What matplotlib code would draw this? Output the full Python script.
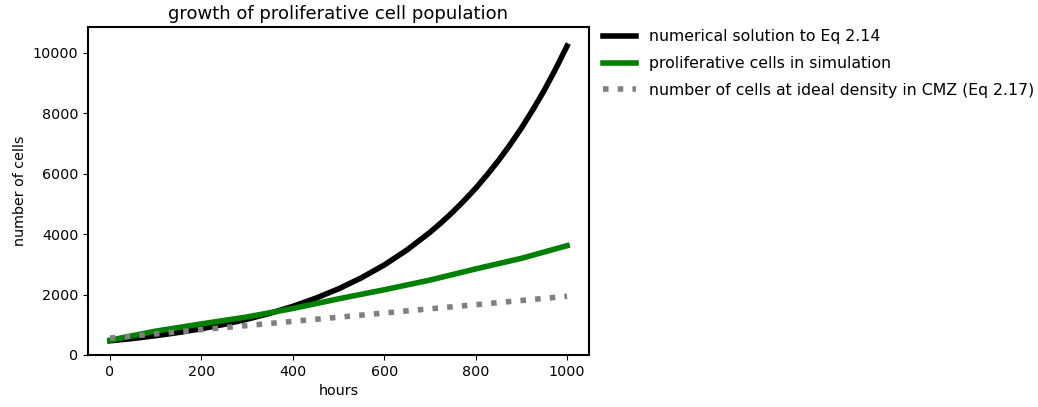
import numpy as np
import matplotlib
matplotlib.use("Agg")
import matplotlib.pyplot as plt

# numerical solution of the growth ODE (denser sampling where it bends most)
ode_hours = [0, 50, 100, 150, 200, 250, 300, 350, 400, 450, 500, 550, 600,
             650, 700, 725, 750, 775, 800, 825, 850, 875, 900, 925, 950, 975, 1000]
ode_cells = [470, 546, 640, 745, 870, 1015, 1185, 1380, 1610, 1880, 2190, 2555, 2980,
             3480, 4060, 4385, 4735, 5115, 5520, 5965, 6440, 6955, 7510, 8115, 8760, 9470, 10230]

# simulation output and ideal-density estimate, every 100 h
sim_hours = [0, 100, 200, 300, 400, 500, 600, 700, 800, 900, 1000]
sim_cells = [490, 790, 1030, 1260, 1540, 1860, 2160, 2480, 2850, 3200, 3620]
ideal_cells = [560, 700, 840, 975, 1115, 1250, 1390, 1530, 1665, 1805, 1945]

fig = plt.figure(figsize=(10.38, 4.07), dpi=100)
ax = fig.add_axes([88 / 1038, 52 / 407, 501 / 1038, 328 / 407])

ax.plot(ode_hours, ode_cells, color="black", linewidth=4,
        label="numerical solution to Eq 2.14")
ax.plot(sim_hours, sim_cells, color="green", linewidth=4,
        label="proliferative cells in simulation")
ax.plot(sim_hours, ideal_cells, color="grey", linewidth=4, linestyle=":",
        label="number of cells at ideal density in CMZ (Eq 2.17)")

ax.set_ylim(0, 10860)
ax.set_xlim(-48, 1048)
ax.set_xticks([0, 200, 400, 600, 800, 1000])
ax.set_yticks([0, 2000, 4000, 6000, 8000, 10000])
ax.tick_params(labelsize=10.3)
ax.set_xlabel("hours", fontsize=10.3)
ax.set_ylabel("number of cells", fontsize=10.3)
ax.set_title("growth of proliferative cell population", fontsize=13)
for s in ax.spines.values():
    s.set_linewidth(1.5)

ax.legend(loc="upper left", bbox_to_anchor=(1.0, 1.036), frameon=False,
          fontsize=11.3, handlelength=2.1, labelspacing=0.75)

fig.savefig("out.png", dpi=100)
